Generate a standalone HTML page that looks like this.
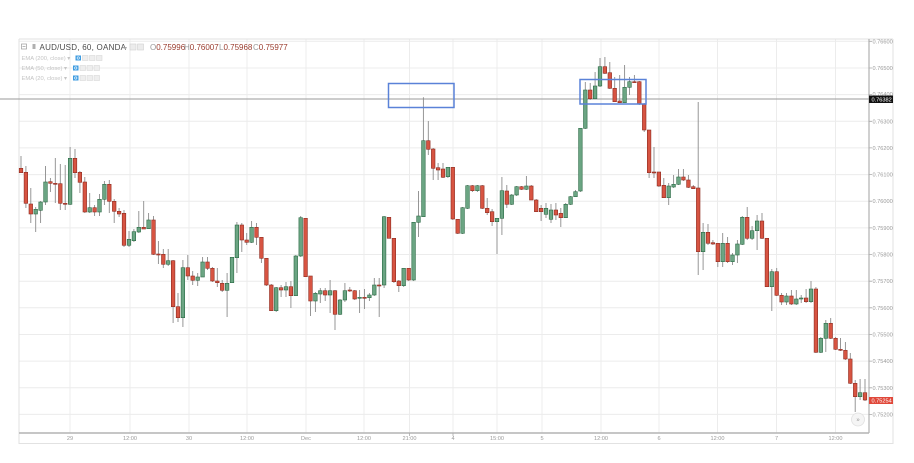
<!DOCTYPE html>
<html><head><meta charset="utf-8"><style>
html,body{margin:0;padding:0;background:#fff;}
svg{display:block;font-family:"Liberation Sans",Arial,sans-serif;}
.r{fill:#d75442;stroke:#8e2c21;stroke-width:0.6}
.g{fill:#6ba583;stroke:#2c6a45;stroke-width:0.6}
</style></head><body>
<svg width="914" height="463" viewBox="0 0 914 463" xmlns="http://www.w3.org/2000/svg">
<rect width="914" height="463" fill="#fff"/>
<!-- horizontal grid -->
<g stroke="#ececec" stroke-width="1">
<path d="M19 41.3H869M19 68H869M19 94.6H869M19 121.3H869M19 147.9H869M19 174.6H869M19 201.2H869M19 227.9H869M19 254.5H869M19 281.2H869M19 307.8H869M19 334.5H869M19 361.1H869M19 387.8H869M19 414.4H869"/>
<path d="M70 39V433M130 39V433M189 39V433M247 39V433M306 39V433M364 39V433M409.5 39V433M453 39V433M497 39V433M542 39V433M601 39V433M659 39V433M717.5 39V433M776.5 39V433M835.5 39V433"/>
</g>
<!-- frame -->
<path d="M19 39H893M19 39V444M893 39V444M19 443.5H893" stroke="#e2e2e2" fill="none"/>
<!-- legend -->
<rect x="21.5" y="44" width="5" height="5" fill="none" stroke="#999" stroke-width="0.7"/>
<path d="M22.5 46.5H25.5" stroke="#999" stroke-width="0.7"/>
<rect x="32.5" y="44" width="3" height="5" fill="#b0b0b0"/>
<text x="39.5" y="50" font-size="8" fill="#4a4a4a" letter-spacing="0.25">AUD/USD, 60, OANDA</text>
<text x="124" y="50" font-size="6" fill="#aaa">▾</text>
<rect x="130" y="44" width="6" height="6" fill="#ececec" stroke="#d0d0d0" stroke-width="0.6"/>
<rect x="137.5" y="44" width="6" height="6" fill="#ececec" stroke="#d0d0d0" stroke-width="0.6"/>
<text y="50" font-size="8"><tspan x="150" fill="#999">O</tspan><tspan fill="#9a3b2d">0.75996</tspan><tspan x="184" fill="#999">H</tspan><tspan fill="#9a3b2d">0.76007</tspan><tspan x="219" fill="#999">L</tspan><tspan fill="#9a3b2d">0.75968</tspan><tspan x="253" fill="#999">C</tspan><tspan fill="#9a3b2d">0.75977</tspan></text>
<g font-size="5.8" fill="#c4c4c4">
<text x="21.5" y="60">EMA (200, close) ▾</text>
<text x="21.5" y="70">EMA (50, close) ▾</text>
<text x="21.5" y="80">EMA (20, close) ▾</text>
</g>
<g>
<rect x="75.5" y="55.5" width="5.5" height="5" fill="#3d9be0"/>
<circle cx="78.25" cy="58" r="1.2" fill="none" stroke="#fff" stroke-width="0.6"/>
<rect x="82.5" y="55.5" width="5.5" height="5" fill="#eee" stroke="#d2d2d2" stroke-width="0.5"/>
<rect x="89.5" y="55.5" width="5.5" height="5" fill="#eee" stroke="#d2d2d2" stroke-width="0.5"/>
<rect x="96.5" y="55.5" width="5.5" height="5" fill="#eee" stroke="#d2d2d2" stroke-width="0.5"/>
<rect x="73" y="65.5" width="5.5" height="5" fill="#3d9be0"/>
<circle cx="75.75" cy="68" r="1.2" fill="none" stroke="#fff" stroke-width="0.6"/>
<rect x="80" y="65.5" width="5.5" height="5" fill="#eee" stroke="#d2d2d2" stroke-width="0.5"/>
<rect x="87" y="65.5" width="5.5" height="5" fill="#eee" stroke="#d2d2d2" stroke-width="0.5"/>
<rect x="94" y="65.5" width="5.5" height="5" fill="#eee" stroke="#d2d2d2" stroke-width="0.5"/>
<rect x="73" y="75.5" width="5.5" height="5" fill="#3d9be0"/>
<circle cx="75.75" cy="78" r="1.2" fill="none" stroke="#fff" stroke-width="0.6"/>
<rect x="80" y="75.5" width="5.5" height="5" fill="#eee" stroke="#d2d2d2" stroke-width="0.5"/>
<rect x="87" y="75.5" width="5.5" height="5" fill="#eee" stroke="#d2d2d2" stroke-width="0.5"/>
<rect x="94" y="75.5" width="5.5" height="5" fill="#eee" stroke="#d2d2d2" stroke-width="0.5"/>
</g>
<!-- horizontal price line -->
<path d="M0 99H869" stroke="#9a9a9a" stroke-width="1"/>
<!-- wicks -->
<path stroke="#8c8c8c" stroke-width="0.9" fill="none" d="M21 156V173M25.9 166V208M30.8 188V223M35.7 207V232M40.6 201V223M45.5 166V205M50.4 178V192M55.3 158V203M60.3 164V210M65.2 165V210M70.1 147V205M75 149V178M79.9 171V193M84.8 177V213M89.7 193V213M94.6 205V216M99.5 194V216M104.4 181V205M109.3 180V213M114.2 199V223M119.1 208V217M124 210V247M129 231V247M133.9 229V242M138.8 211V233M143.7 201V229M148.6 213V229M153.5 216V255M158.4 241V264M163.3 249V268M168.2 249V266M173.1 260V323M178 293V322M182.9 260V327M187.8 255V280M192.7 271V285M197.7 273V286M202.6 257V277M207.5 257V270M212.4 267V282M217.3 268V287M222.2 280V292M227.1 273V317M232 257V283M236.9 222V273M241.8 223V252M246.7 233V245M251.6 221V243M256.5 223V245M261.4 237V263M266.4 258V286M271.3 284V311M276.2 287V312M281.1 285V297M286 282V297M290.9 281V308M295.8 255V296M300.7 216V257M305.6 218V277M310.5 276V316M315.4 292V312M320.3 288V303M325.2 288V301M330.1 280V313M335 290V330M340 299V315M344.9 283V302M349.8 287V292M354.7 290V300M359.6 290V313M364.5 289V309M369.4 293V301M374.3 278V296M379.2 278V317M384.1 216V288M389 217V238M393.9 238V283M398.8 280V292M403.7 268V287M408.7 268V281M413.6 222V281M418.5 191V237M423.4 97.3V217M428.3 121V155M433.2 148V180M438.1 163V180M443 163V178M447.9 167V178M452.8 167V220M457.7 219V234M462.6 207V234M467.5 185V209M472.4 185V192M477.4 185V192M482.3 185V209M487.2 198V215M492.1 209V226M497 218V254M501.9 177V235M506.8 185V208M511.7 194V205M516.6 186V196M521.5 186V190M526.4 176V190M531.3 185V200M536.2 199V212M541.1 205V221M546 203V218M551 204V223M555.9 203V220M560.8 208V227M565.7 203V218M570.6 196V205M575.5 190V197M580.4 128V192M585.3 82V129M590.2 83V100M595.1 72V99M600 58V87M604.9 57V74M609.8 62V89M614.7 77V102M619.7 75V103M624.6 65V103M629.5 77V95M634.4 75V83M639.3 81V105M644.2 103V132M649.1 130V178M654 147V178M658.9 172V187M663.8 178V198M668.7 183V205M673.6 175V188M678.5 169V185M683.4 169V181M688.4 175V188M693.3 185V189M698.2 102V275M703.1 223V270M708 224V245M712.9 240V245M717.8 243V267M722.7 233V267M727.6 237V263M732.5 253V265M737.4 240V263M742.3 216V245M747.2 207V240M752.1 226V240M757.1 215V250M762 213V239M766.9 238V287M771.8 269V311M776.7 268V296M781.6 293V305M786.5 293V305M791.4 290V305M796.3 290V305M801.2 295V303M806.1 289V303M811 281V303M815.9 287V353M820.8 337V353M825.8 320V352M830.7 318V339M835.6 337V350M840.5 338V351M845.4 342V360M850.3 353V384M855.2 380V412M860.1 379V400M865 379V401"/>
<!-- bodies -->
<g>
<rect class="r" x="19.2" y="168.3" width="3.6" height="4.4"/>
<rect class="r" x="24.1" y="172.3" width="3.6" height="31"/>
<rect class="r" x="29" y="204" width="3.6" height="10"/>
<rect class="g" x="33.9" y="209.3" width="3.6" height="4.7"/>
<rect class="g" x="38.8" y="202" width="3.6" height="8.3"/>
<rect class="g" x="43.7" y="182" width="3.6" height="20"/>
<rect class="r" x="48.6" y="181.7" width="3.6" height="1.6"/>
<rect class="r" x="53.5" y="183.3" width="3.6" height="1"/>
<rect class="r" x="58.5" y="183.7" width="3.6" height="19.6"/>
<rect class="r" x="63.4" y="203.3" width="3.6" height="1"/>
<rect class="g" x="68.3" y="158.3" width="3.6" height="46"/>
<rect class="r" x="73.2" y="158.3" width="3.6" height="14.4"/>
<rect class="r" x="78.1" y="172.3" width="3.6" height="10"/>
<rect class="r" x="83" y="182" width="3.6" height="30"/>
<rect class="g" x="87.9" y="207.7" width="3.6" height="4.3"/>
<rect class="r" x="92.8" y="207.7" width="3.6" height="4.3"/>
<rect class="g" x="97.7" y="199.3" width="3.6" height="12.7"/>
<rect class="g" x="102.6" y="184.3" width="3.6" height="15"/>
<rect class="r" x="107.5" y="184.3" width="3.6" height="17"/>
<rect class="r" x="112.4" y="201.3" width="3.6" height="10"/>
<rect class="r" x="117.3" y="211.3" width="3.6" height="2.7"/>
<rect class="r" x="122.2" y="213.3" width="3.6" height="32"/>
<rect class="g" x="127.2" y="239.3" width="3.6" height="6"/>
<rect class="g" x="132.1" y="231.7" width="3.6" height="9"/>
<rect class="g" x="137" y="227.3" width="3.6" height="4.7"/>
<rect class="r" x="141.9" y="227.3" width="3.6" height="1.7"/>
<rect class="g" x="146.8" y="220" width="3.6" height="8.7"/>
<rect class="r" x="151.7" y="220" width="3.6" height="34.3"/>
<rect class="r" x="156.6" y="254" width="3.6" height="1"/>
<rect class="r" x="161.5" y="254.3" width="3.6" height="10"/>
<rect class="g" x="166.4" y="260.7" width="3.6" height="3.6"/>
<rect class="r" x="171.3" y="260.7" width="3.6" height="46"/>
<rect class="r" x="176.2" y="306.7" width="3.6" height="11"/>
<rect class="g" x="181.1" y="267.7" width="3.6" height="50"/>
<rect class="r" x="186" y="267.7" width="3.6" height="8.3"/>
<rect class="r" x="190.9" y="276" width="3.6" height="4.3"/>
<rect class="g" x="195.9" y="277" width="3.6" height="3.3"/>
<rect class="g" x="200.8" y="262" width="3.6" height="15"/>
<rect class="r" x="205.7" y="262" width="3.6" height="6.3"/>
<rect class="r" x="210.6" y="268.3" width="3.6" height="12.7"/>
<rect class="r" x="215.5" y="281" width="3.6" height="1.7"/>
<rect class="r" x="220.4" y="283.3" width="3.6" height="7"/>
<rect class="g" x="225.3" y="283.3" width="3.6" height="7"/>
<rect class="g" x="230.2" y="257.3" width="3.6" height="25.4"/>
<rect class="g" x="235.1" y="225" width="3.6" height="32.7"/>
<rect class="r" x="240" y="225" width="3.6" height="15"/>
<rect class="r" x="244.9" y="240" width="3.6" height="2.3"/>
<rect class="g" x="249.8" y="227.3" width="3.6" height="15"/>
<rect class="r" x="254.7" y="227.3" width="3.6" height="10"/>
<rect class="r" x="259.6" y="237.3" width="3.6" height="21"/>
<rect class="r" x="264.6" y="258.3" width="3.6" height="26.7"/>
<rect class="r" x="269.5" y="285" width="3.6" height="25.7"/>
<rect class="g" x="274.4" y="287.7" width="3.6" height="23"/>
<rect class="r" x="279.3" y="287.7" width="3.6" height="2.3"/>
<rect class="g" x="284.2" y="286.7" width="3.6" height="3.3"/>
<rect class="r" x="289.1" y="286.7" width="3.6" height="9"/>
<rect class="g" x="294" y="256" width="3.6" height="39.7"/>
<rect class="g" x="298.9" y="217.7" width="3.6" height="38.3"/>
<rect class="r" x="303.8" y="218.3" width="3.6" height="58.4"/>
<rect class="r" x="308.7" y="276" width="3.6" height="25"/>
<rect class="g" x="313.6" y="293.3" width="3.6" height="7.7"/>
<rect class="g" x="318.5" y="290.7" width="3.6" height="3.3"/>
<rect class="r" x="323.4" y="290.7" width="3.6" height="4.3"/>
<rect class="g" x="328.3" y="290.7" width="3.6" height="4.3"/>
<rect class="r" x="333.2" y="290.7" width="3.6" height="23.6"/>
<rect class="g" x="338.2" y="300" width="3.6" height="14.3"/>
<rect class="g" x="343.1" y="290.7" width="3.6" height="9.3"/>
<rect class="r" x="348" y="290" width="3.6" height="1"/>
<rect class="r" x="352.9" y="290.7" width="3.6" height="8.3"/>
<rect class="g" x="357.8" y="297.3" width="3.6" height="1"/>
<rect class="r" x="362.7" y="297.3" width="3.6" height="1"/>
<rect class="g" x="367.6" y="295" width="3.6" height="2.7"/>
<rect class="g" x="372.5" y="285" width="3.6" height="10"/>
<rect class="r" x="377.4" y="285" width="3.6" height="1"/>
<rect class="g" x="382.3" y="216.7" width="3.6" height="68.3"/>
<rect class="r" x="387.2" y="217.3" width="3.6" height="21"/>
<rect class="r" x="392.1" y="238.3" width="3.6" height="43.4"/>
<rect class="r" x="397" y="281" width="3.6" height="4.7"/>
<rect class="g" x="401.9" y="268.3" width="3.6" height="17.4"/>
<rect class="r" x="406.9" y="268.3" width="3.6" height="11.7"/>
<rect class="g" x="411.8" y="222.3" width="3.6" height="57.7"/>
<rect class="g" x="416.7" y="216" width="3.6" height="6.3"/>
<rect class="g" x="421.6" y="140.7" width="3.6" height="76"/>
<rect class="r" x="426.5" y="140.7" width="3.6" height="8.6"/>
<rect class="r" x="431.4" y="149" width="3.6" height="19.3"/>
<rect class="r" x="436.3" y="167.7" width="3.6" height="2.3"/>
<rect class="r" x="441.2" y="169" width="3.6" height="8.3"/>
<rect class="g" x="446.1" y="167.3" width="3.6" height="9.4"/>
<rect class="r" x="451" y="167.3" width="3.6" height="51.7"/>
<rect class="r" x="455.9" y="219.3" width="3.6" height="14"/>
<rect class="g" x="460.8" y="207.7" width="3.6" height="25.6"/>
<rect class="g" x="465.7" y="185.7" width="3.6" height="22.6"/>
<rect class="r" x="470.6" y="185.7" width="3.6" height="5"/>
<rect class="g" x="475.6" y="185.7" width="3.6" height="5"/>
<rect class="r" x="480.5" y="185.7" width="3.6" height="22.6"/>
<rect class="r" x="485.4" y="208.3" width="3.6" height="4.4"/>
<rect class="r" x="490.3" y="211.7" width="3.6" height="10"/>
<rect class="g" x="495.2" y="218.3" width="3.6" height="3.4"/>
<rect class="g" x="500.1" y="190.7" width="3.6" height="27.6"/>
<rect class="r" x="505" y="191" width="3.6" height="13.3"/>
<rect class="g" x="509.9" y="195" width="3.6" height="9.3"/>
<rect class="g" x="514.8" y="186.7" width="3.6" height="8.3"/>
<rect class="r" x="519.7" y="186.7" width="3.6" height="2.6"/>
<rect class="g" x="524.6" y="186" width="3.6" height="3.3"/>
<rect class="r" x="529.5" y="186" width="3.6" height="14"/>
<rect class="r" x="534.4" y="200" width="3.6" height="11.7"/>
<rect class="r" x="539.3" y="208.3" width="3.6" height="3.4"/>
<rect class="g" x="544.2" y="208.3" width="3.6" height="6"/>
<rect class="g" x="549.2" y="210" width="3.6" height="9.3"/>
<rect class="r" x="554.1" y="210" width="3.6" height="5"/>
<rect class="r" x="559" y="213.3" width="3.6" height="4.4"/>
<rect class="g" x="563.9" y="204.3" width="3.6" height="13.4"/>
<rect class="g" x="568.8" y="196.7" width="3.6" height="7.6"/>
<rect class="g" x="573.7" y="191.7" width="3.6" height="5"/>
<rect class="g" x="578.6" y="128.3" width="3.6" height="62.7"/>
<rect class="g" x="583.5" y="90" width="3.6" height="38.3"/>
<rect class="r" x="588.4" y="90" width="3.6" height="8.7"/>
<rect class="g" x="593.3" y="86" width="3.6" height="12.7"/>
<rect class="g" x="598.2" y="66.7" width="3.6" height="19.3"/>
<rect class="r" x="603.1" y="66.7" width="3.6" height="6.6"/>
<rect class="r" x="608" y="72.7" width="3.6" height="15.6"/>
<rect class="r" x="612.9" y="88.3" width="3.6" height="13.4"/>
<rect class="r" x="617.9" y="101" width="3.6" height="1.7"/>
<rect class="g" x="622.8" y="87.3" width="3.6" height="15.4"/>
<rect class="g" x="627.7" y="81.7" width="3.6" height="5.6"/>
<rect class="r" x="632.6" y="81.7" width="3.6" height="1"/>
<rect class="r" x="637.5" y="81.7" width="3.6" height="22.3"/>
<rect class="r" x="642.4" y="104" width="3.6" height="26"/>
<rect class="r" x="647.3" y="130" width="3.6" height="42.7"/>
<rect class="r" x="652.2" y="172" width="3.6" height="1"/>
<rect class="r" x="657.1" y="172" width="3.6" height="14"/>
<rect class="r" x="662" y="185.3" width="3.6" height="12.4"/>
<rect class="g" x="666.9" y="186" width="3.6" height="11.7"/>
<rect class="g" x="671.8" y="184.3" width="3.6" height="2.7"/>
<rect class="g" x="676.7" y="177" width="3.6" height="7.3"/>
<rect class="r" x="681.6" y="177" width="3.6" height="3"/>
<rect class="r" x="686.6" y="180" width="3.6" height="7.3"/>
<rect class="r" x="691.5" y="186.7" width="3.6" height="2"/>
<rect class="r" x="696.4" y="188" width="3.6" height="63.7"/>
<rect class="g" x="701.3" y="232.3" width="3.6" height="19.4"/>
<rect class="r" x="706.2" y="232.3" width="3.6" height="11"/>
<rect class="r" x="711.1" y="242.7" width="3.6" height="1.3"/>
<rect class="r" x="716" y="243.3" width="3.6" height="18.4"/>
<rect class="g" x="720.9" y="243.3" width="3.6" height="18.4"/>
<rect class="r" x="725.8" y="243.3" width="3.6" height="18.4"/>
<rect class="g" x="730.7" y="255" width="3.6" height="6.7"/>
<rect class="g" x="735.6" y="244" width="3.6" height="11"/>
<rect class="g" x="740.5" y="217.3" width="3.6" height="27"/>
<rect class="r" x="745.4" y="217.3" width="3.6" height="21"/>
<rect class="g" x="750.3" y="230.7" width="3.6" height="7.6"/>
<rect class="g" x="755.3" y="221" width="3.6" height="9.7"/>
<rect class="r" x="760.2" y="221" width="3.6" height="17.3"/>
<rect class="r" x="765.1" y="238.3" width="3.6" height="48.4"/>
<rect class="g" x="770" y="271.7" width="3.6" height="15"/>
<rect class="r" x="774.9" y="271.7" width="3.6" height="23.6"/>
<rect class="r" x="779.8" y="295.3" width="3.6" height="6.7"/>
<rect class="g" x="784.7" y="296" width="3.6" height="6"/>
<rect class="r" x="789.6" y="296" width="3.6" height="8"/>
<rect class="g" x="794.5" y="299" width="3.6" height="5"/>
<rect class="g" x="799.4" y="298" width="3.6" height="1"/>
<rect class="r" x="804.3" y="298" width="3.6" height="3.7"/>
<rect class="g" x="809.2" y="289" width="3.6" height="12.7"/>
<rect class="r" x="814.1" y="289" width="3.6" height="63.3"/>
<rect class="g" x="819" y="338.3" width="3.6" height="14"/>
<rect class="g" x="824" y="323.3" width="3.6" height="15"/>
<rect class="r" x="828.9" y="323.3" width="3.6" height="15"/>
<rect class="r" x="833.8" y="338.3" width="3.6" height="11"/>
<rect class="r" x="838.7" y="349.3" width="3.6" height="1"/>
<rect class="r" x="843.6" y="350.3" width="3.6" height="8.7"/>
<rect class="r" x="848.5" y="359" width="3.6" height="24.3"/>
<rect class="r" x="853.4" y="383.3" width="3.6" height="13.4"/>
<rect class="g" x="858.3" y="392.7" width="3.6" height="4"/>
<rect class="r" x="863.2" y="392.7" width="3.6" height="7.3"/>
</g>
<!-- blue rectangles -->
<rect x="388.5" y="83.5" width="65.5" height="24" fill="none" stroke="#5a82d8" stroke-width="1.5"/>
<rect x="580" y="79.5" width="66" height="24.5" fill="none" stroke="#5a82d8" stroke-width="1.5"/>
<!-- scroll button -->
<circle cx="858" cy="419.5" r="6.5" fill="#f5f5f5" stroke="#e0e0e0" stroke-width="0.8"/>
<text x="858" y="421.5" font-size="6" fill="#999" text-anchor="middle">»</text>
<!-- axes -->
<path d="M869 39V433" stroke="#a0a0a0" stroke-width="1"/>
<path d="M19 433H869" stroke="#b4b4b4" stroke-width="1.5"/>
<g stroke="#aaa" stroke-width="0.8">
<path d="M869 41.3H872M869 68H872M869 94.6H872M869 121.3H872M869 147.9H872M869 174.6H872M869 201.2H872M869 227.9H872M869 254.5H872M869 281.2H872M869 307.8H872M869 334.5H872M869 361.1H872M869 387.8H872M869 414.4H872"/>
<path d="M409.5 433V436M453 433V436"/>
</g>
<g font-size="5.6" fill="#9a9a9a">
<text x="872.5" y="43.3">0.76600</text>
<text x="872.5" y="70">0.76500</text>
<text x="872.5" y="96.2">0.76400</text>
<text x="872.5" y="123.3">0.76300</text>
<text x="872.5" y="149.9">0.76200</text>
<text x="872.5" y="176.6">0.76100</text>
<text x="872.5" y="203.2">0.76000</text>
<text x="872.5" y="229.9">0.75900</text>
<text x="872.5" y="256.5">0.75800</text>
<text x="872.5" y="283.2">0.75700</text>
<text x="872.5" y="309.8">0.75600</text>
<text x="872.5" y="336.5">0.75500</text>
<text x="872.5" y="363.1">0.75400</text>
<text x="872.5" y="389.8">0.75300</text>
<text x="872.5" y="416.4">0.75200</text>
</g>
<rect x="869" y="95.5" width="24" height="7.5" fill="#111"/>
<text x="871.5" y="101.3" font-size="5.6" fill="#fff">0.76382</text>
<rect x="869" y="397" width="24" height="7" fill="#e0483a"/>
<text x="871.5" y="402.5" font-size="5.6" fill="#fff">0.75254</text>
<g font-size="5.6" fill="#9a9a9a" text-anchor="middle">
<text x="70" y="440">29</text>
<text x="130" y="440">12:00</text>
<text x="189" y="440">30</text>
<text x="247" y="440">12:00</text>
<text x="306" y="440">Dec</text>
<text x="364" y="440">12:00</text>
<text x="409.5" y="440">21:00</text>
<text x="453" y="440">4</text>
<text x="497" y="440">15:00</text>
<text x="542" y="440">5</text>
<text x="601" y="440">12:00</text>
<text x="659" y="440">6</text>
<text x="717.5" y="440">12:00</text>
<text x="776.5" y="440">7</text>
<text x="835.5" y="440">12:00</text>
</g>
</svg>
</body></html>
